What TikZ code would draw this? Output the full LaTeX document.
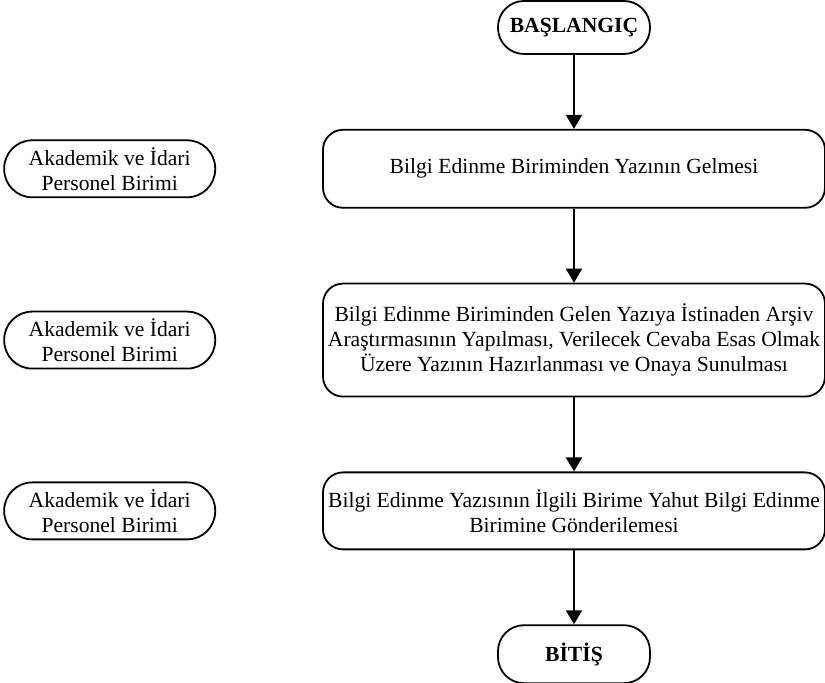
\documentclass[tikz,border=0pt]{standalone}
\usepackage{fontspec}
\setmainfont{Liberation Serif}
\usetikzlibrary{positioning,arrows.meta}

\tikzset{
  term/.style={draw, line width=0.9pt, rounded corners=13pt, minimum width=76pt, minimum height=26.5pt, font=\fontsize{10.8}{12.5}\selectfont\bfseries},
  stepbox/.style={draw, line width=0.9pt, rounded corners=10pt, minimum width=251pt, align=center, inner sep=1pt, font=\fontsize{10.8}{12.5}\selectfont},
  unit/.style={draw, line width=0.9pt, rounded corners=14pt, minimum width=105.5pt, minimum height=28.5pt, align=center, inner sep=1pt, font=\fontsize{10.8}{12.5}\selectfont},
  flow/.style={-{Triangle[width=8pt,length=7pt]}, line width=0.9pt}
}

\begin{document}
\begin{tikzpicture}[node distance=37pt]
        \useasboundingbox (0,0) rectangle (412.5pt,-341.5pt);

        \node[term] (Start) at (287pt,-13.75pt) {BAŞLANGIÇ};
        \node[stepbox, minimum height=39pt, below=of Start] (Gelme) {Bilgi Edinme Biriminden Yazının Gelmesi};
        \node[stepbox, minimum height=56.5pt, below=of Gelme] (Arastirma) {Bilgi Edinme Biriminden Gelen Yazıya İstinaden Arşiv\\Araştırmasının Yapılması, Verilecek Cevaba Esas Olmak\\Üzere Yazının Hazırlanması ve Onaya Sunulması};
        \node[stepbox, minimum height=38.5pt, below=of Arastirma] (Gonderme) {Bilgi Edinme Yazısının İlgili Birime Yahut Bilgi Edinme\\Birimine Gönderilemesi};
        \node[term, minimum height=29pt, below=of Gonderme] (Bitis) {BİTİŞ};

        \node[unit, left=53pt of Gelme] (Birim1) {Akademik ve İdari\\Personel Birimi};
        \node[unit, left=53pt of Arastirma] (Birim2) {Akademik ve İdari\\Personel Birimi};
        \node[unit, left=53pt of Gonderme] (Birim3) {Akademik ve İdari\\Personel Birimi};

        \draw[flow] (Start) -- (Gelme);
        \draw[flow] (Gelme) -- (Arastirma);
        \draw[flow] (Arastirma) -- (Gonderme);
        \draw[flow] (Gonderme) -- (Bitis);
    \end{tikzpicture}
\end{document}
